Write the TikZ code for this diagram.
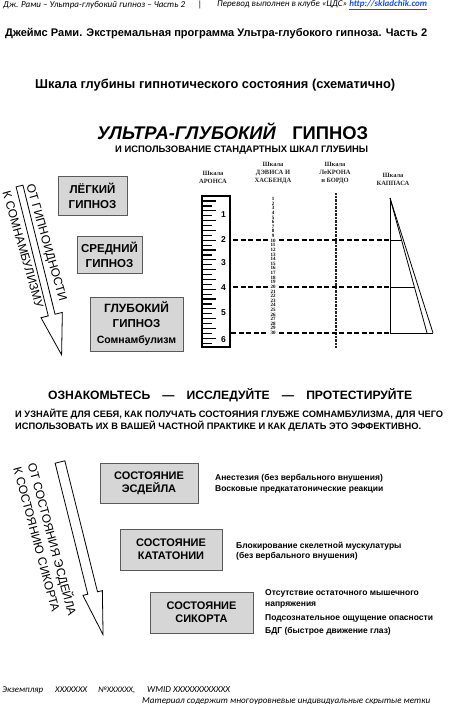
\documentclass[tikz,border=0pt]{standalone}
\usepackage{fontspec}
\usepackage{graphicx}
\setmainfont{Liberation Sans}
\newfontfamily\calibfont{Carlito}
\newfontfamily\seriffont{Liberation Serif}
\usetikzlibrary{shadows}
\definecolor{boxgray}{HTML}{D6D6D6}
\definecolor{boxedge}{HTML}{5A5A5A}
\definecolor{linkblue}{HTML}{1F4FC8}
\newcommand{\fitto}[2]{\resizebox{#1}{!}{#2}}
\tikzset{
  gbox/.style={draw=boxedge, line width=0.9pt, fill=boxgray, inner sep=0pt, align=center,
     drop shadow={shadow xshift=1.2pt, shadow yshift=-1.2pt, opacity=0.35, fill=black}},
  topbox/.style={gbox, font=\bfseries\fontsize{11.5}{15}\selectfont},
  botbox/.style={gbox, font=\bfseries\fontsize{11}{13}\selectfont},
  plain/.style={inner sep=0pt},
  sidetext/.style={inner sep=0pt, align=left, anchor=north west, font=\bfseries\fontsize{8.5}{10.7}\selectfont},
  arrowtext/.style={inner sep=0pt, font=\fontsize{12}{12}\selectfont},
  scalelbl/.style={inner sep=0pt, align=center, font=\seriffont\bfseries\fontsize{6.5}{8}\selectfont, text=black!85},
  davisnum/.style={inner sep=0pt, font=\seriffont\bfseries\fontsize{5}{5}\selectfont},
  aronsnum/.style={inner sep=0pt, font=\bfseries\fontsize{8.5}{9}\selectfont},
  hollow/.style={draw=black, line width=0.8pt, fill=white, line join=miter},
  guide/.style={line width=1.1pt, dash pattern=on 5pt off 2.5pt},
  thinline/.style={line width=0.8pt},
  tickline/.style={line width=1.2pt},
}
\begin{document}
\begin{tikzpicture}[x=1pt,y=-1pt]
\useasboundingbox[fill=white] (0,0) rectangle (451,704);

% header
\node[plain, anchor=west] (hdrL) at (3,5) {\fitto{182pt}{\calibfont\itshape Дж. Рами – Ультра-глубокий гипноз – Часть 2}};
\node[plain] (hdrbar) at (200,5) {\calibfont\fontsize{9}{9}\selectfont |};
\node[plain, anchor=west] (hdrR) at (217,5) {\fitto{210pt}{\calibfont\itshape Перевод выполнен в клубе «ЦДС» \textcolor{linkblue}{\bfseries\underline{http://skladchik.com}}}};

% titles
\node[plain, anchor=west] (title) at (5,34) {\fitto{422pt}{\bfseries Джеймс Рами. Экстремальная программа Ультра-глубокого гипноза. Часть 2}};
\node[plain, anchor=west] (scalehead) at (35,85) {\fitto{360pt}{\bfseries Шкала глубины гипнотического состояния (схематично)}};
\node[plain, anchor=west] (ultra) at (97,131) {\fitto{271pt}{\fontsize{17}{17}\selectfont{\bfseries\itshape УЛЬТРА-ГЛУБОКИЙ}\hspace{0.9em}{\bfseries ГИПНОЗ}}};
\node[plain, anchor=west] (ultrasub) at (115,150) {\fitto{253pt}{\bfseries И ИСПОЛЬЗОВАНИЕ СТАНДАРТНЫХ ШКАЛ ГЛУБИНЫ}};

% top boxes
\node[topbox, minimum width=69pt, minimum height=39pt] (light) at (92.5,195.5) {ЛЁГКИЙ\\ГИПНОЗ};
\node[topbox, minimum width=65pt, minimum height=37pt] (medium) at (109.5,254.5) {СРЕДНИЙ\\ГИПНОЗ};
\node[topbox, minimum width=93pt, minimum height=54pt] (deep) at (136.5,324) {\fontsize{12}{15}\selectfont ГЛУБОКИЙ\\ГИПНОЗ\\[1pt]\fontsize{10.5}{13}\selectfont Сомнамбулизм};

% top arrow
\begin{scope}[shift={(19.5,186)}, rotate=14]
  \draw[hollow] (-3.5,0) -- (3.5,0) -- (3.5,133) -- (11,133) -- (0,174) -- (-11,133) -- (-3.5,133) -- cycle;
\end{scope}
\node[arrowtext, align=center, rotate=-74, font=\fontsize{12}{24.7}\selectfont] (toparrowlbl) at (35,246) {ОТ ГИПНОИДНОСТИ\\К СОМНАМБУЛИЗМУ};

% scale labels
\node[scalelbl] (arlbl) at (213,177) {Шкала\\АРОНСА};
\node[scalelbl] (dalbl) at (273,173) {Шкала\\ДЭВИСА И\\ХАСБЕНДА};
\node[scalelbl] (lelbl) at (335,173) {Шкала\\ЛеКРОНА\\и БОРДО};
\node[scalelbl] (kalbl) at (393,179) {Шкала\\КАППАСА};

% Arons scale
\draw[line width=1.6pt] (202,196) rectangle (230,347);
\foreach \i in {0,...,14} {
  \draw[tickline] (203,{201+9.8*\i}) -- ++(13,0);
  \draw[tickline] (203,{205.9+9.8*\i}) -- ++(8.5,0);
}
\foreach \n/\yy in {1/215,2/240,3/263,4/288,5/313,6/340}
  \node[aronsnum] (ar\n) at (223.5,\yy) {\n};

% Davis scale
\foreach \k in {1,...,30}
  \node[davisnum] (d\k) at (273,{199+(\k-1)*4.62}) {\k};

% LeCron scale
\draw[line width=1.8pt, dash pattern=on 0.7pt off 0.7pt, black!85] (336,193) -- (336,348);

% guide lines
\draw[guide] (233,240) -- (268,240);
\draw[guide] (279,240) -- (390,240);
\draw[guide] (233,287) -- (268,287);
\draw[guide] (279,287) -- (390,287);
\draw[guide] (231,333) -- (267,333);
\draw[guide] (279,333) -- (390,333);

% Kappas scale
\draw[thinline] (390,198) -- (390,333) -- (433,333);
\draw[thinline] (390,198) -- (427,333);
\draw[thinline] (390,198) -- (433,333);
\draw[thinline] (390,240) -- (401.5,240);
\draw[thinline] (390,287) -- (414.5,287);

% middle texts
\node[plain, anchor=west] (explore) at (48,395) {\fitto{364pt}{\bfseries\fontsize{11}{11}\selectfont ОЗНАКОМЬТЕСЬ\hspace{1em}—\hspace{1em}ИССЛЕДУЙТЕ\hspace{1em}—\hspace{1em}ПРОТЕСТИРУЙТЕ}};
\node[plain, anchor=north west] (learn) at (15,409) {\fitto{428pt}{\bfseries\fontsize{7.5}{8.8}\selectfont\begin{tabular}{@{}l@{}}И УЗНАЙТЕ ДЛЯ СЕБЯ, КАК ПОЛУЧАТЬ СОСТОЯНИЯ ГЛУБЖЕ СОМНАМБУЛИЗМА, ДЛЯ ЧЕГО\\ИСПОЛЬЗОВАТЬ ИХ В ВАШЕЙ ЧАСТНОЙ ПРАКТИКЕ И КАК ДЕЛАТЬ ЭТО ЭФФЕКТИВНО.\end{tabular}}};

% bottom boxes
\node[botbox, minimum width=98pt, minimum height=40pt] (esd) at (149,483) {СОСТОЯНИЕ\\ЭСДЕЙЛА};
\node[botbox, minimum width=102pt, minimum height=41pt] (kat) at (171,549.5) {СОСТОЯНИЕ\\КАТАТОНИИ};
\node[botbox, minimum width=103pt, minimum height=41pt] (sik) at (201.5,612.5) {СОСТОЯНИЕ\\СИКОРТА};

\node[sidetext] (esdtxt) at (215,474.5) {Анестезия (без вербального внушения)\\Восковые предкататонические реакции};
\node[sidetext] (kattxt) at (236,541.5) {Блокирование скелетной мускулатуры\\(без вербального внушения)};
\node[sidetext] (siktxt) at (265,589.5) {Отсутствие остаточного мышечного\\напряжения\\[3pt]Подсознательное ощущение опасности\\[3pt]БДГ (быстрое движение глаз)};

% bottom arrow
\begin{scope}[shift={(60,462)}, rotate=14]
  \draw[hollow] (-5,0) -- (5,0) -- (5,135) -- (10,135) -- (0,178) -- (-10,135) -- (-5,135) -- cycle;
\end{scope}
\node[arrowtext, align=left, rotate=-75, font=\fontsize{12}{15}\selectfont] (botarrowlbl) at (46,541) {ОТ СОСТОЯНИЯ ЭСДЕЙЛА\\К СОСТОЯНИЮ СИКОРТА};

% footer
\node[plain, anchor=west] (f1) at (2,690) {\fitto{41pt}{\calibfont\itshape Экземпляр}};
\node[plain, anchor=west] (f2) at (55,690) {\fitto{32pt}{\calibfont\itshape XXXXXXX}};
\node[plain, anchor=west] (f3) at (98,690) {\fitto{37pt}{\calibfont\itshape №XXXXXX,}};
\node[plain, anchor=west] (f4) at (147,690) {\fitto{83pt}{\calibfont\itshape WMID XXXXXXXXXXXX}};
\node[plain, anchor=west] (f5) at (142,701) {\fitto{288pt}{\calibfont\itshape Материал содержит многоуровневые индивидуальные скрытые метки}};
\end{tikzpicture}
\end{document}
